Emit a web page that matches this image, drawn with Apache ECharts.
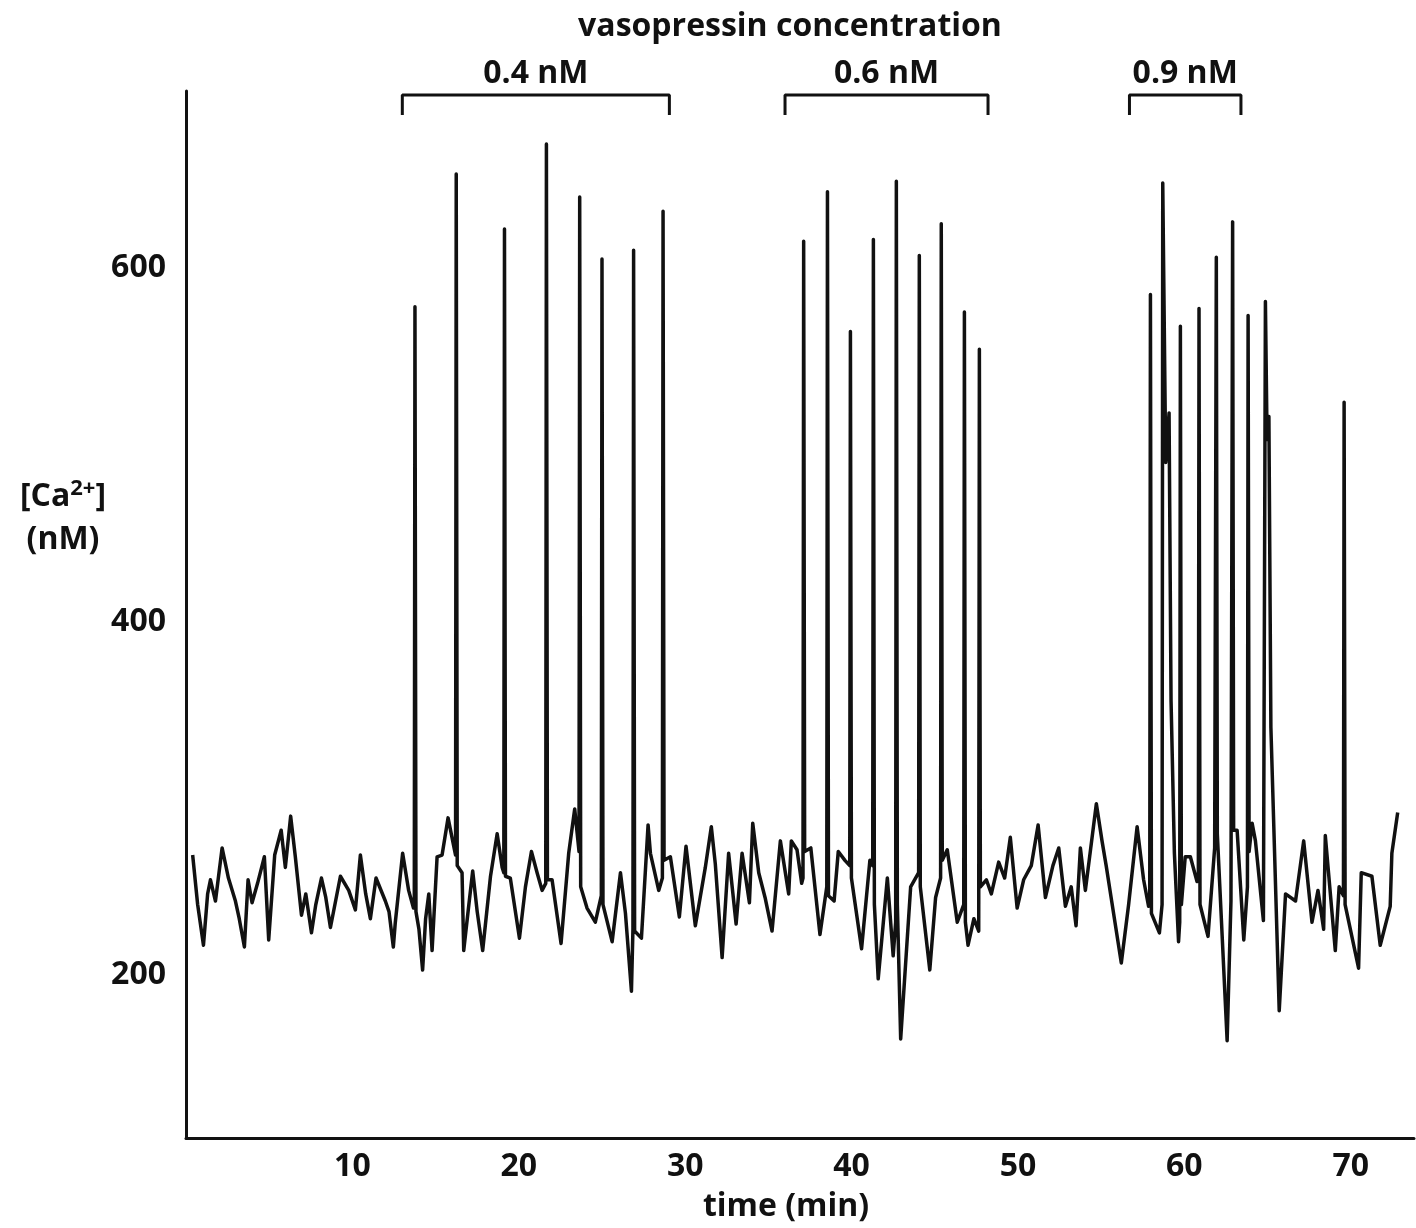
<!DOCTYPE html>
<html>
<head>
<meta charset="utf-8">
<script src="https://cdn.jsdelivr.net/npm/echarts@6/dist/echarts.min.js"></script>
<style>
html,body{margin:0;padding:0;background:#fff;}
#chart{width:1416px;height:1228px;}
</style>
</head>
<body>
<div id="chart"></div>
<script>
// ---- Data: [time (min), [Ca2+] (nM)] ----
const tracePre = [
  [0.40,268],[0.70,240],[1.05,217],[1.30,246],[1.47,254],[1.77,242],[2.17,272],[2.55,255],[2.97,242],[3.20,232],
  [3.51,216],[3.73,254],[3.97,241],[4.30,252],[4.71,267],[4.97,220],[5.33,268],[5.72,282],[5.97,261],[6.29,290],
  [6.57,267],[6.94,234],[7.20,246],[7.54,224],[7.80,240],[8.14,255],[8.40,244],[8.68,227],[9.28,256],[9.78,248],
  [10.18,237],[10.48,268],[10.80,246],[11.08,232],[11.42,255],[11.98,242],[12.20,236],[12.46,216],[12.58,230]
];
const traceDose04 = [
  [13.02,269],[13.38,248],[13.67,238],[13.72,240],[13.76,578],[13.82,236],[14.00,226],[14.22,203],[14.40,232],[14.59,246],
  [14.79,214],[15.09,267],[15.39,268],[15.75,289],[16.09,273],[16.20,268],[16.24,653],[16.30,262],[16.59,258],[16.69,214],
  [17.00,240],[17.23,259],[17.50,236],[17.83,214],[18.30,256],[18.70,280],[19.00,261],[19.10,258],[19.14,622],[19.20,256],
  [19.49,255],[20.04,221],[20.40,250],[20.76,270],[21.10,258],[21.40,248],[21.62,252],[21.66,670],[21.72,254],[22.00,254],
  [22.54,218],[23.00,269],[23.36,294],[23.62,270],[23.66,640],[23.72,250],[24.10,238],[24.60,230],[24.96,245],[25.00,605],
  [25.06,240],[25.61,219],[26.11,258],[26.41,235],[26.77,191],[26.86,226],[26.90,610],[26.96,225],[27.37,221],[27.77,285],
  [27.91,269],[28.41,248],[28.63,255],[28.67,632],[28.73,265],[29.11,267]
];
const traceWash1 = [
  [29.65,233],[30.05,273],[30.61,228],[31.21,261],[31.57,284],[31.81,263],[32.22,210],[32.61,269],[33.06,229],[33.42,269],
  [33.86,241],[34.06,286],[34.42,258],[34.80,244],[35.22,225],[35.72,276],[36.22,246],[36.38,276],[36.72,271],[37.00,252]
];
const traceDose06 = [
  [37.08,255],[37.12,615],[37.18,270],[37.55,272],[38.10,223],[38.51,250],[38.55,643],[38.61,245],[38.95,242],[39.20,270],
  [39.60,265],[39.89,262],[39.93,564],[39.99,255],[40.60,215],[41.10,265],[41.27,262],[41.31,616],[41.37,240],[41.60,198],
  [42.15,255],[42.50,211],[42.65,230],[42.69,649],[42.75,240],[42.95,164],[43.55,250],[44.03,258],[44.07,607],[44.13,250],
  [44.70,203],[45.05,244],[45.35,255],[45.39,625],[45.45,265],[45.75,271],[46.35,230],[46.74,240],[46.78,575],[46.84,230],
  [47.00,217],[47.35,232],[47.64,225],[47.68,554],[47.74,250],[48.10,254]
];
const traceWash2 = [
  [48.40,246],[48.84,264],[49.20,255],[49.54,278],[49.95,238],[50.34,254],[50.80,262],[51.21,285],[51.65,244],[52.10,262],
  [52.45,272],[52.85,239],[53.20,250],[53.49,228],[53.75,272],[54.05,248],[54.71,297],[55.05,276],[55.30,262],[55.63,242],
  [56.21,207],[56.65,240],[57.16,284],[57.55,254],[57.85,239]
];
const traceDose09 = [
  [57.92,245],[57.96,585],[58.02,235],[58.50,224],[58.66,240],[58.70,648],[58.88,490],[59.08,518],[59.20,355],[59.40,269],
  [59.65,219],[59.72,230],[59.76,567],[59.82,240],[60.05,267],[60.36,267],[60.76,253],[60.84,255],[60.88,577],[60.94,240],
  [61.42,222],[61.82,272],[61.88,272],[61.92,606],[61.98,280],[62.57,163],[62.80,242],[62.90,626],[62.96,282],[63.17,282],
  [63.57,220],[63.79,250],[63.83,573],[63.89,270],[64.07,286],[64.27,276],[64.75,231],[64.87,581],[64.97,503],[65.08,516],
  [65.20,340],[65.70,180]
];
const tracePost = [
  [66.08,246],[66.68,242],[67.17,276],[67.67,230],[68.03,248],[68.37,226],[68.47,279],[69.07,214],[69.30,250],[69.56,245],
  [69.60,524],[69.66,240],[70.47,204],[70.63,258],[71.27,256],[71.77,217],[72.37,239],[72.47,269],[72.82,292]
];

// vasopressin application periods
const doseLabels = ['0.4 nM', '0.6 nM', '0.9 nM'];
const doseStart = [13.0, 36.0, 56.7];
const doseEnd   = [29.05, 48.2, 63.4];

const yTicks = [200, 400, 600];
const xTicks = [10, 20, 30, 40, 50, 60, 70];

// ---- Build ----
const trace = [].concat(tracePre, traceDose04, traceWash1, traceDose06, traceWash2, traceDose09, tracePost);
const FONT = '"Open Sans", "DejaVu Sans", sans-serif';
const FS = 32;
const BRACKET_TOP = 697.8, BRACKET_FOOT = 686.5;

const bracketSeries = doseLabels.map((lab, i) => ({
  type: 'line',
  data: [[doseStart[i], BRACKET_FOOT], [doseStart[i], BRACKET_TOP], [doseEnd[i], BRACKET_TOP], [doseEnd[i], BRACKET_FOOT]],
  showSymbol: false, symbol: 'none', clip: false, silent: true,
  lineStyle: { color: '#111', width: 3 },
  z: 3
}));

const labelSeries = {
  type: 'scatter',
  data: doseLabels.map((lab, i) => ({ value: [(doseStart[i] + doseEnd[i]) / 2, BRACKET_TOP], name: lab })),
  symbolSize: 0, clip: false, silent: true,
  itemStyle: { opacity: 1 },
  label: {
    show: true, position: 'top', distance: 5,
    formatter: p => p.name, opacity: 1,
    fontFamily: FONT, fontWeight: 'bold', fontSize: FS, color: '#111'
  }
};

const chart = echarts.init(document.getElementById('chart'), null, { renderer: 'canvas' });
chart.setOption({
  animation: false,
  backgroundColor: '#fff',
  grid: { left: 186, right: 2, top: 91, bottom: 90, containLabel: false },
  xAxis: {
    type: 'value', min: 0, max: 73.8,
    axisLine: { show: true, lineStyle: { color: '#111', width: 3 } },
    axisTick: { show: false },
    splitLine: { show: false },
    axisLabel: {
      customValues: xTicks,
      margin: 13,
      fontFamily: FONT, fontWeight: 'bold', fontSize: FS, color: '#111'
    }
  },
  yAxis: {
    type: 'value', min: 108, max: 700,
    axisLine: { show: true, lineStyle: { color: '#111', width: 3 } },
    axisTick: { show: false },
    splitLine: { show: false },
    axisLabel: {
      customValues: yTicks,
      margin: 20,
      fontFamily: FONT, fontWeight: 'bold', fontSize: FS, color: '#111'
    }
  },
  graphic: [
    { type: 'text', x: 790, y: 27, style: { text: 'vasopressin concentration', fontFamily: FONT, fontWeight: 'bold', fontSize: FS, fill: '#111', align: 'center', verticalAlign: 'middle' } },
    { type: 'text', x: 786, y: 1207, style: { text: 'time (min)', fontFamily: FONT, fontWeight: 'bold', fontSize: FS, fill: '#111', align: 'center', verticalAlign: 'middle' } },
    { type: 'text', x: 63, y: 497, style: {
        text: '{b|[Ca}{s|2+}{b|]}', align: 'center', verticalAlign: 'middle',
        rich: {
          b: { fontFamily: FONT, fontWeight: 'bold', fontSize: FS, fill: '#111', color: '#111' },
          s: { fontFamily: FONT, fontWeight: 'bold', fontSize: 22, fill: '#111', color: '#111', padding: [0, 0, 16, 0] }
        }
      } },
    { type: 'text', x: 63, y: 540, style: { text: '(nM)', fontFamily: FONT, fontWeight: 'bold', fontSize: FS, fill: '#111', align: 'center', verticalAlign: 'middle' } }
  ],
  series: [
    {
      type: 'line',
      data: trace,
      showSymbol: false, symbol: 'none',
      lineStyle: { color: '#111', width: 3.5, join: 'round' },
      z: 2
    },
    ...bracketSeries,
    labelSeries
  ]
});
</script>
</body>
</html>
